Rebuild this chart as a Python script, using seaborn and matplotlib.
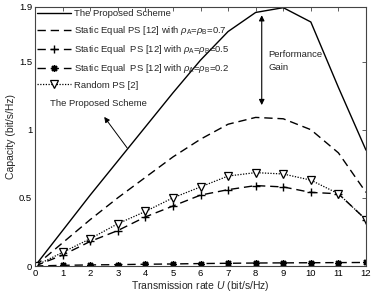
import numpy as np
import pandas as pd
import matplotlib
matplotlib.use("Agg")
import matplotlib.pyplot as plt
import seaborn as sns

U = list(range(13))
proposed = [0, 0.26, 0.52, 0.77, 1.02, 1.27, 1.51, 1.72, 1.86, 1.895, 1.79, 1.31, 0.85]
static07 = [0, 0.17, 0.34, 0.50, 0.65, 0.80, 0.93, 1.04, 1.09, 1.08, 1.00, 0.83, 0.54]
static05 = [0, 0.08, 0.18, 0.26, 0.36, 0.44, 0.52, 0.56, 0.59, 0.58, 0.54, 0.53, 0.34]
static02 = [0, 0.005, 0.008, 0.010, 0.013, 0.015, 0.018, 0.020, 0.022, 0.023, 0.024, 0.025, 0.026]
random_ps = [0, 0.10, 0.20, 0.31, 0.40, 0.50, 0.58, 0.66, 0.685, 0.675, 0.63, 0.53, 0.34]

labels = ["The Proposed Scheme",
          r"Static Equal PS [12] with $\rho_{\rm A}$=$\rho_{\rm B}$=0.7",
          r"Static Equal  PS [12] with $\rho_{\rm A}$=$\rho_{\rm B}$=0.5",
          r"Static Equal  PS [12] with $\rho_{\rm A}$=$\rho_{\rm B}$=0.2",
          "Random PS [2]"]
xticks = list(range(13))
yticks = [0, 0.5, 1, 1.5, 1.9]
yticklabels = ["0", "0.5", "1", "1.5", "1.9"]

sns.set_style("white")
plt.rcParams['font.family'] = ['Liberation Sans', 'DejaVu Sans']
plt.rcParams['mathtext.fontset'] = 'custom'
plt.rcParams['mathtext.rm'] = 'Liberation Sans'
plt.rcParams['mathtext.it'] = 'Liberation Sans:italic'

fig = plt.figure(figsize=(3.74, 3.0), dpi=100)
ax = fig.add_axes([0.0936, 0.1133, 0.885, 0.8634])

fs = 6.8
dash = (0, (6, 3.5))
sns.lineplot(x=U, y=proposed, ax=ax, color='black', lw=1.0, label=labels[0])
sns.lineplot(x=U, y=static07, ax=ax, color='black', lw=1.0, label=labels[1],
             linestyle=dash)
sns.lineplot(x=U, y=static05, ax=ax, color='black', lw=1.0, label=labels[2],
             linestyle=dash, marker='+', markersize=6, markeredgewidth=1.0,
             markeredgecolor='black')
sns.lineplot(x=U, y=static02, ax=ax, color='black', lw=1.0, label=labels[3],
             linestyle=dash, marker=(8, 2, 0), markersize=5, markeredgewidth=1.0,
             markeredgecolor='black')
sns.lineplot(x=U, y=random_ps, ax=ax, color='black', lw=0.9, label=labels[4],
             linestyle=(0, (1, 1.2)), marker='v', markersize=5.5,
             markerfacecolor='white', markeredgecolor='black', markeredgewidth=0.9)

ax.set_xlim(0, 12)
ax.set_ylim(0, 1.9)
ax.set_xticks(xticks)
ax.set_xticklabels([str(t) for t in xticks])
ax.set_yticks(yticks)
ax.set_yticklabels(yticklabels)
ax.tick_params(direction='in', length=3, width=0.6, labelsize=fs, top=True, right=True,
               colors='#444444', labelcolor='black', pad=2)
for s in ax.spines.values():
    s.set_color('#444444')
    s.set_linewidth(0.8)

ax.set_xlabel(r"Transmission rate $\it{U}$ (bit/s/Hz)", fontsize=7.5, labelpad=1)
ax.set_ylabel("Capacity (bit/s/Hz)", fontsize=7.5, labelpad=2)

leg = ax.legend(loc='upper left', frameon=False, fontsize=fs, handlelength=3.6,
                handletextpad=0.3, borderaxespad=0.05, labelspacing=0.62,
                borderpad=0.2)

ax.annotate("", xy=(2.45, 1.11), xytext=(3.4, 0.85),
            arrowprops=dict(arrowstyle='-|>', color='black', lw=0.7,
                            mutation_scale=8))
ax.text(2.3, 1.19, "The Proposed Scheme", fontsize=fs, ha='center', va='center')
ax.annotate("", xy=(8.22, 1.86), xytext=(8.22, 1.16),
            arrowprops=dict(arrowstyle='<|-|>', color='black', lw=0.8,
                            mutation_scale=8))
ax.text(8.45, 1.505, "Performance\nGain", fontsize=fs, ha='left', va='center',
        linespacing=1.6)

fig.savefig("out.png", dpi=100)
